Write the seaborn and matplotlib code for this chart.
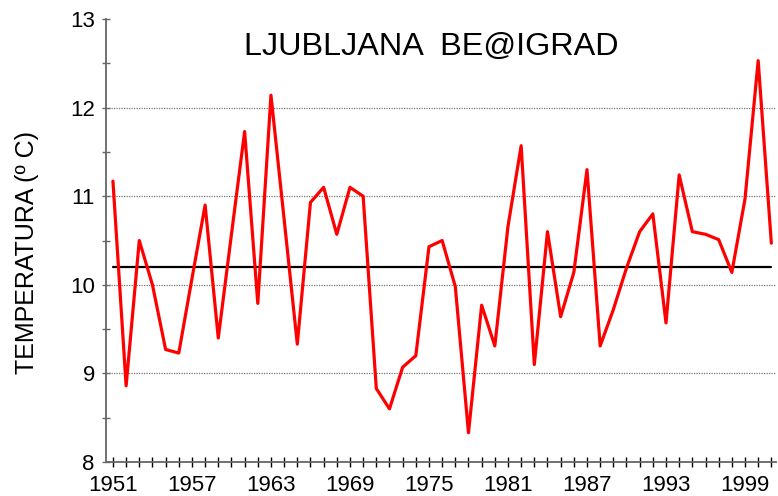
import matplotlib
matplotlib.use('Agg')
import matplotlib.pyplot as plt
import seaborn as sns
import pandas as pd
from matplotlib.ticker import MultipleLocator, FixedLocator

# Data
years = list(range(1951, 2002))
temps = [11.17, 8.86, 10.50, 10.00, 9.27, 9.23, 10.07, 10.90, 9.40, 10.57,
         11.73, 9.79, 12.14, 10.74, 9.33, 10.93, 11.10, 10.57, 11.10, 11.00,
         8.83, 8.60, 9.07, 9.20, 10.43, 10.50, 9.98, 8.33, 9.77, 9.31,
         10.66, 11.57, 9.10, 10.60, 9.64, 10.14, 11.30, 9.31, 9.72, 10.19,
         10.60, 10.80, 9.57, 11.24, 10.60, 10.57, 10.51, 10.14, 10.97, 12.53,
         10.47]
mean_temp = 10.2
title = 'LJUBLJANA  BE@IGRAD'
ylabel = 'TEMPERATURA (º C)'
xtick_years = [1951, 1957, 1963, 1969, 1975, 1981, 1987, 1993, 1999]

df = pd.DataFrame({'year': years, 'temp': temps})

sns.set_style('white')
plt.rcParams['font.family'] = ['Liberation Sans', 'DejaVu Sans']
plt.rcParams['text.color'] = 'black'
plt.rcParams['axes.labelcolor'] = 'black'

fig = plt.figure(figsize=(7.78, 4.96), dpi=100)
ax = fig.add_axes([0.1362, 0.0685, 0.861, 0.8932])

# dotted gridlines
for v in [9, 10, 11, 12]:
    ax.axhline(v, color='#777777', linestyle=(0, (1, 1)), linewidth=0.9, zorder=1)

sns.lineplot(data=df, x='year', y='temp', color='#ff0000', linewidth=2.3, ax=ax, zorder=3)
ax.plot([years[0], years[-1]], [mean_temp, mean_temp], color='black', linewidth=1.6, zorder=2)

ax.set_xlim(1950.47, 2001.34)
ax.set_ylim(8, 13)
ax.xaxis.set_major_locator(FixedLocator(xtick_years))
ax.xaxis.set_minor_locator(FixedLocator(years))
ax.yaxis.set_major_locator(MultipleLocator(1))
ax.yaxis.set_minor_locator(MultipleLocator(0.5))

ax.tick_params(axis='x', which='both', direction='inout', length=7, width=1, color='black',
               labelcolor='black', labelsize=16, pad=5.5)
ax.tick_params(axis='y', which='both', direction='inout', length=6, width=1, color='#666666',
               labelcolor='black', labelsize=16, pad=5)
ax.tick_params(axis='x', which='both', bottom=True)
ax.tick_params(axis='y', which='both', left=True)

for s in ['top', 'right']:
    ax.spines[s].set_visible(False)
for s in ['left', 'bottom']:
    ax.spines[s].set_color('#666666')
    ax.spines[s].set_linewidth(1.3)

ax.set_xlabel('')
ax.set_ylabel(ylabel, fontsize=18, color='black')
ax.yaxis.set_label_coords(-0.100, 0.474)
ax.text(0.485, 0.937, title, transform=ax.transAxes, ha='center', va='center',
        fontsize=23.3, color='black')

fig.savefig('out.png', dpi=100)
